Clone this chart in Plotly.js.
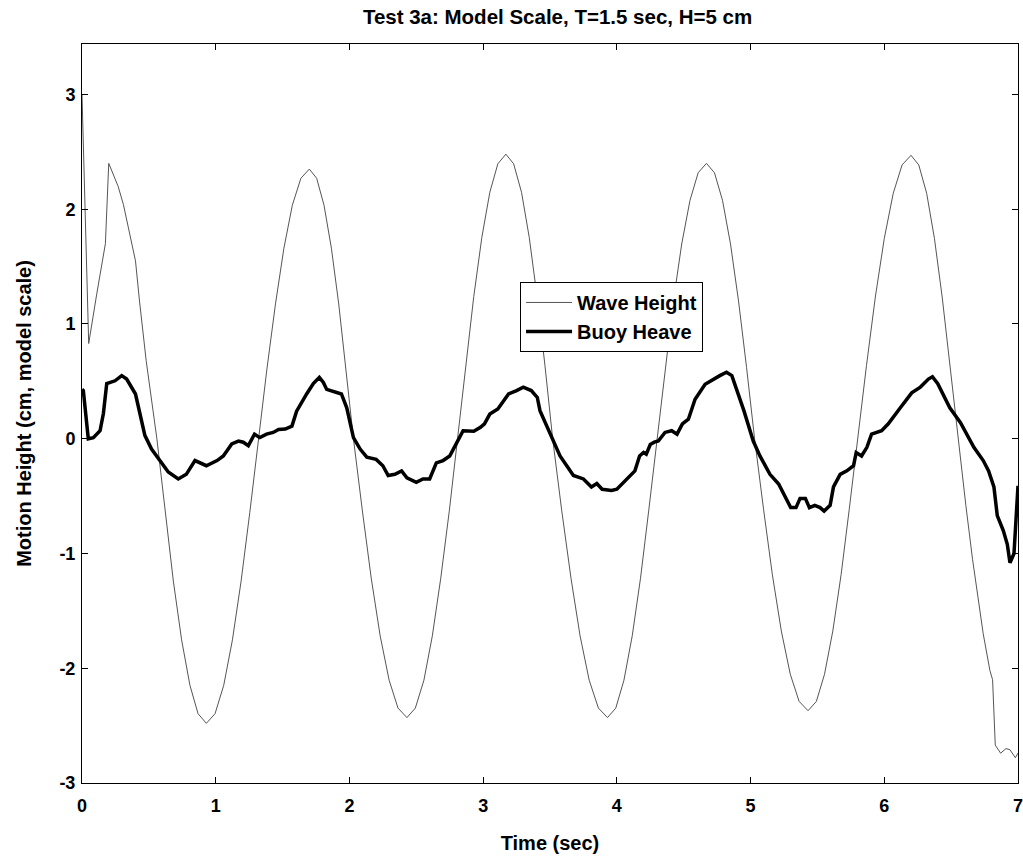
<!DOCTYPE html>
<html>
<head>
<meta charset="utf-8">
<script src="https://cdn.plot.ly/plotly-3.0.1.min.js"></script>
<style>html,body{margin:0;padding:0;background:#fff;}#chart{width:1023px;height:860px;}</style>
</head>
<body>
<div id="chart"></div>
<script>
// Wave Height (time s, height cm)
var waveT = [0, 0.05, 0.11, 0.16, 0.175, 0.2, 0.27, 0.31, 0.40, 0.43, 0.48, 0.56,
  0.622, 0.683, 0.745, 0.807, 0.868, 0.93,
  0.995, 1.06, 1.125, 1.19, 1.255, 1.32,
  1.383, 1.447, 1.51, 1.573, 1.637, 1.70,
  1.755, 1.81, 1.865, 1.92, 1.975, 2.03,
  2.097, 2.163, 2.23, 2.297, 2.363, 2.43,
  2.493, 2.557, 2.62, 2.683, 2.747, 2.81,
  2.87, 2.93, 2.99, 3.05, 3.11, 3.17,
  3.228, 3.287, 3.345, 3.403, 3.462, 3.52,
  3.588, 3.657, 3.725, 3.793, 3.862, 3.93,
  3.992, 4.053, 4.115, 4.177, 4.238, 4.30,
  4.362, 4.423, 4.485, 4.547, 4.608, 4.67,
  4.73, 4.79, 4.85, 4.91, 4.97, 5.03,
  5.097, 5.163, 5.23, 5.297, 5.363, 5.43,
  5.492, 5.553, 5.615, 5.677, 5.738, 5.80,
  5.867, 5.933, 6.0, 6.067, 6.133, 6.20,
  6.258, 6.317, 6.375, 6.433, 6.492, 6.55,
  6.61, 6.66, 6.74, 6.79, 6.81, 6.83, 6.87, 6.91, 6.94, 6.98, 7.0];
var waveH = [3.0, 0.83, 1.26, 1.62, 1.70, 2.40, 2.20, 2.04, 1.55, 1.20, 0.68, 0.0,
  -0.642, -1.24, -1.753, -2.148, -2.396, -2.48,
  -2.396, -2.148, -1.753, -1.24, -0.642, 0.0,
  0.609, 1.175, 1.661, 2.035, 2.27, 2.35,
  2.27, 2.035, 1.661, 1.175, 0.609, 0.0,
  -0.629, -1.215, -1.718, -2.104, -2.347, -2.43,
  -2.347, -2.104, -1.718, -1.215, -0.629, 0.0,
  0.642, 1.24, 1.753, 2.148, 2.396, 2.48,
  2.396, 2.148, 1.753, 1.24, 0.642, 0.0,
  -0.629, -1.215, -1.718, -2.104, -2.347, -2.43,
  -2.347, -2.104, -1.718, -1.215, -0.629, 0.0,
  0.622, 1.20, 1.697, 2.078, 2.318, 2.40,
  2.318, 2.078, 1.697, 1.20, 0.622, 0.0,
  -0.614, -1.185, -1.676, -2.052, -2.289, -2.37,
  -2.289, -2.052, -1.676, -1.185, -0.614, 0.0,
  0.64, 1.235, 1.746, 2.139, 2.386, 2.47,
  2.386, 2.139, 1.746, 1.235, 0.64, 0.0,
  -0.58, -1.05, -1.70, -2.02, -2.10, -2.67, -2.74, -2.70, -2.71, -2.78, -2.74];

// Buoy Heave (time s, height cm)
var heaveT = [0, 0.01, 0.047, 0.085, 0.135, 0.16, 0.185, 0.21, 0.247, 0.297, 0.334, 0.40,
  0.434, 0.47, 0.52, 0.57, 0.645, 0.72, 0.78, 0.845, 0.88, 0.93, 1.01, 1.057,
  1.12, 1.17, 1.206, 1.244, 1.29, 1.33, 1.38, 1.43, 1.47, 1.52, 1.57, 1.605,
  1.68, 1.73, 1.775, 1.805, 1.83, 1.905, 1.94, 1.98, 2.03, 2.08, 2.13, 2.20,
  2.25, 2.29, 2.34, 2.39, 2.43, 2.50, 2.55, 2.60, 2.65, 2.70, 2.75, 2.80,
  2.85, 2.93, 2.98, 3.01, 3.05, 3.11, 3.19, 3.25, 3.30, 3.36, 3.405, 3.425,
  3.50, 3.575, 3.675, 3.75, 3.81, 3.85, 3.89, 3.96, 4.00, 4.10, 4.135, 4.17,
  4.20, 4.22, 4.25, 4.28, 4.31, 4.36, 4.41, 4.45, 4.49, 4.535, 4.585, 4.66,
  4.72, 4.77, 4.82, 4.86, 4.95, 5.02, 5.07, 5.145, 5.21, 5.26, 5.30, 5.34,
  5.37, 5.41, 5.44, 5.48, 5.52, 5.55, 5.595, 5.62, 5.67, 5.72, 5.77, 5.79,
  5.83, 5.87, 5.905, 5.98, 6.03, 6.12, 6.205, 6.27, 6.33, 6.36, 6.40, 6.49,
  6.57, 6.67, 6.74, 6.78, 6.82, 6.845, 6.89, 6.92, 6.94, 6.97, 6.99, 7.0];
var heaveH = [0.43, 0.42, 0.0, 0.01, 0.07, 0.22, 0.48, 0.49, 0.505, 0.55, 0.52, 0.39,
  0.22, 0.03, -0.09, -0.175, -0.29, -0.35, -0.31, -0.19, -0.21, -0.235, -0.19, -0.15,
  -0.045, -0.02, -0.03, -0.06, 0.04, 0.01, 0.04, 0.055, 0.08, 0.085, 0.11, 0.24,
  0.39, 0.48, 0.535, 0.49, 0.43, 0.40, 0.39, 0.27, 0.01, -0.09, -0.16, -0.18,
  -0.235, -0.32, -0.31, -0.28, -0.34, -0.38, -0.35, -0.35, -0.21, -0.19, -0.15, -0.04,
  0.07, 0.065, 0.10, 0.13, 0.215, 0.26, 0.39, 0.42, 0.45, 0.42, 0.36, 0.245,
  0.055, -0.15, -0.32, -0.35, -0.42, -0.39, -0.44, -0.45, -0.44, -0.32, -0.28, -0.15,
  -0.12, -0.135, -0.05, -0.03, -0.02, 0.055, 0.07, 0.04, 0.13, 0.17, 0.345, 0.475,
  0.52, 0.55, 0.58, 0.55, 0.245, -0.02, -0.15, -0.31, -0.395, -0.51, -0.60, -0.60,
  -0.52, -0.52, -0.60, -0.58, -0.60, -0.63, -0.58, -0.42, -0.31, -0.28, -0.235, -0.12,
  -0.15, -0.075, 0.04, 0.07, 0.13, 0.27, 0.40, 0.45, 0.52, 0.54, 0.48, 0.27,
  0.14, -0.075, -0.19, -0.28, -0.42, -0.67, -0.80, -0.92, -1.08, -1.00, -0.66, -0.41];

var xTicks = [0, 1, 2, 3, 4, 5, 6, 7];
var yTicks = [-3, -2, -1, 0, 1, 2, 3];

var traces = [
  {x: waveT, y: waveH, type: 'scatter', mode: 'lines', name: 'Wave Height',
   line: {color: '#555555', width: 1}},
  {x: heaveT, y: heaveH, type: 'scatter', mode: 'lines', name: 'Buoy Heave',
   line: {color: '#000000', width: 3.5}}
];

var fam = 'Liberation Sans, Arial, sans-serif';
var layout = {
  width: 1023, height: 860,
  margin: {l: 82, r: 5, t: 44, b: 77},
  paper_bgcolor: '#ffffff', plot_bgcolor: '#ffffff',
  showlegend: true,
  title: {text: 'Test 3a: Model Scale, T=1.5 sec, H=5 cm', x: 0.545, xanchor: 'center', y: 0.98, yanchor: 'middle',
          font: {family: fam, size: 20.5, color: '#000', weight: 'bold'}},
  xaxis: {range: [0, 7], tickvals: xTicks, ticktext: xTicks.map(String),
          ticks: 'inside', ticklen: 6, tickcolor: '#000', tickwidth: 1,
          showline: true, linecolor: '#000', linewidth: 1, mirror: 'ticks',
          showgrid: false, zeroline: false, ticklabelstandoff: 6, ticklabeloverflow: 'allow',
          tickfont: {family: fam, size: 18, color: '#000', weight: 'bold'},
          title: {text: 'Time (sec)', standoff: 21, font: {family: fam, size: 20, color: '#000', weight: 'bold'}}},
  yaxis: {range: [-3, 3.44], tickvals: yTicks, ticktext: yTicks.map(String),
          ticks: 'inside', ticklen: 6, tickcolor: '#000', tickwidth: 1,
          showline: true, linecolor: '#000', linewidth: 1, mirror: 'ticks',
          showgrid: false, zeroline: false, ticklabelstandoff: 2, ticklabeloverflow: 'allow',
          tickfont: {family: fam, size: 18, color: '#000', weight: 'bold'},
          title: {text: 'Motion Height (cm, model scale)', standoff: 22, font: {family: fam, size: 20, color: '#000', weight: 'bold'}}},
  legend: {x: 0.468, y: 0.678, xanchor: 'left', yanchor: 'top', itemwidth: 46,
           bgcolor: '#ffffff', bordercolor: '#000', borderwidth: 1,
           font: {family: fam, size: 20, color: '#000', weight: 'bold'}, tracegroupgap: 0}
};

Plotly.newPlot('chart', traces, layout, {displayModeBar: false, staticPlot: true});
</script>
</body>
</html>
